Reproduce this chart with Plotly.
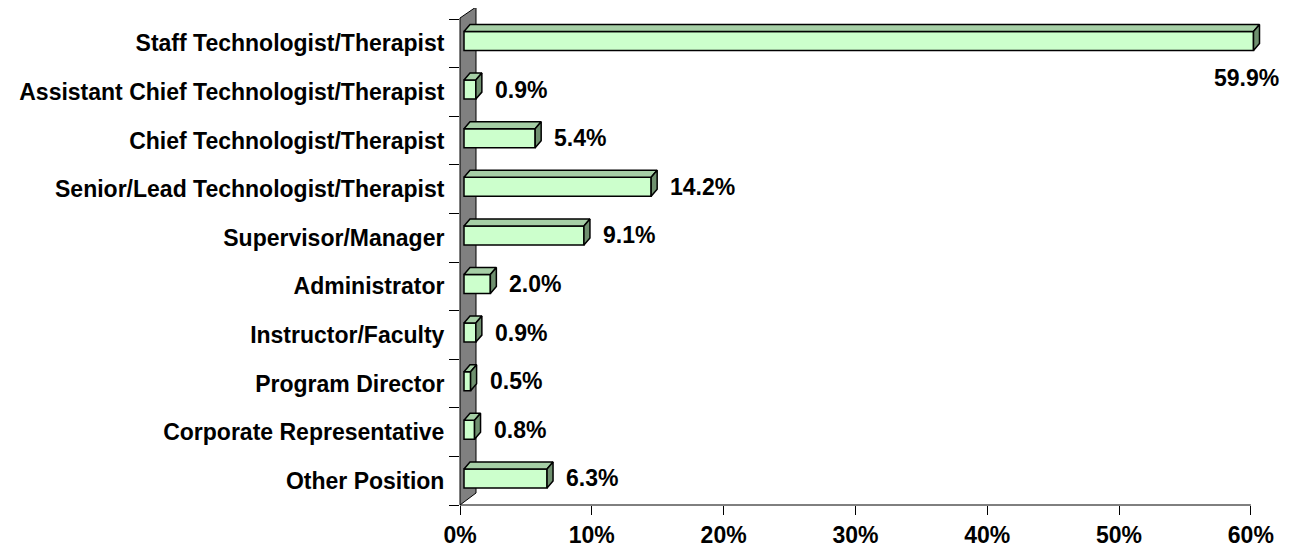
import plotly.graph_objects as go

CATEGORIES = [
    "Staff Technologist/Therapist",
    "Assistant Chief Technologist/Therapist",
    "Chief Technologist/Therapist",
    "Senior/Lead Technologist/Therapist",
    "Supervisor/Manager",
    "Administrator",
    "Instructor/Faculty",
    "Program Director",
    "Corporate Representative",
    "Other Position",
]
PERCENTS = [59.9, 0.9, 5.4, 14.2, 9.1, 2.0, 0.9, 0.5, 0.8, 6.3]
X_TICKS = [0, 10, 20, 30, 40, 50, 60]

FRONT = "#CCFFCC"
TOP = "#A6CFA6"
SIDE = "#6F906F"
WALL = "#808080"
FONT = dict(family="Liberation Sans, Arial, sans-serif", size=23, color="black", weight="bold")

# geometry (pixel -> data conversion); page body adds an 8px offset
L, R, T, B = 452, 38, 11, 53
W, H = 1294 - L - R, 550 - T - B
X_MAX = 61
PX_X = X_MAX / W            # % per pixel
PX_Y = len(CATEGORIES) / H  # category per pixel
BASE = 4 * PX_X
BAR_W = 19 * PX_Y
SHIFT = -2.3 * PX_Y
DX, DY = 6 * PX_X, 7 * PX_Y

pos = list(range(len(CATEGORIES)))

fig = go.Figure()

# wall on the left
wd, wh = 16 / W, 12 / H
fig.add_shape(type="path", xref="paper", yref="paper",
              path=f"M 0 0 L {wd} {wh} L {wd} {1 + wh} L 0 {1 + 1 / H} Z",
              fillcolor=WALL, line=dict(color="black", width=1), layer="below")

fig.add_trace(go.Bar(
    y=pos, x=PERCENTS, base=BASE, orientation="h",
    width=BAR_W, offset=-BAR_W / 2 + SHIFT,
    marker=dict(color=FRONT, line=dict(color="black", width=1.5)),
    showlegend=False, hoverinfo="skip",
))

# 3D top and side faces
tx, ty, sx, sy = [], [], [], []
for p, v in zip(pos, PERCENTS):
    yt = p - BAR_W / 2 + SHIFT
    yb = yt + BAR_W
    x0, x1 = BASE, BASE + v
    tx += [x0, x1, x1 + DX, x0 + DX, x0, None]
    ty += [yt, yt, yt - DY, yt - DY, yt, None]
    sx += [x1, x1, x1 + DX, x1 + DX, x1, None]
    sy += [yt, yb, yb - DY, yt - DY, yt, None]
for xs, ys, col in [(tx, ty, TOP), (sx, sy, SIDE)]:
    fig.add_trace(go.Scatter(x=xs, y=ys, mode="lines", fill="toself",
                             fillcolor=col, line=dict(color="black", width=1.5),
                             showlegend=False, hoverinfo="skip"))

# value labels
for p, v in zip(pos, PERCENTS):
    if v > 50:
        fig.add_annotation(x=BASE + v, y=p, text=f"{v:.1f}%", showarrow=False,
                           xanchor="right", xshift=27, yshift=-35, font=FONT)
    else:
        fig.add_annotation(x=BASE + v, y=p + SHIFT, text=f"{v:.1f}%", showarrow=False,
                           xanchor="left", xshift=17, font=FONT)

# x axis line up to 60%
fig.add_shape(type="line", xref="x", yref="paper", x0=0, x1=60, y0=0, y1=0,
              line=dict(color="black", width=1))

fig.update_layout(
    width=1294, height=550,
    paper_bgcolor="white", plot_bgcolor="white",
    margin=dict(l=L, r=R, t=T, b=B),
    font=FONT,
    xaxis=dict(range=[0, X_MAX], tickvals=X_TICKS, ticktext=[f"{t}%" for t in X_TICKS],
               ticks="outside", ticklen=9, tickcolor="black", showgrid=False,
               zeroline=False, showline=False, tickfont=FONT),
    yaxis=dict(range=[len(CATEGORIES) - 0.5, -0.5], tickvals=pos, ticktext=CATEGORIES,
               ticks="outside", ticklen=10, tickcolor="rgba(0,0,0,0)",
               minor=dict(tickvals=[p - 0.5 for p in pos] + [len(pos) - 0.5],
                          ticks="outside", ticklen=10, tickcolor="black"),
               showgrid=False, zeroline=False, showline=False, tickfont=FONT),
)

fig.write_html("out.html")
